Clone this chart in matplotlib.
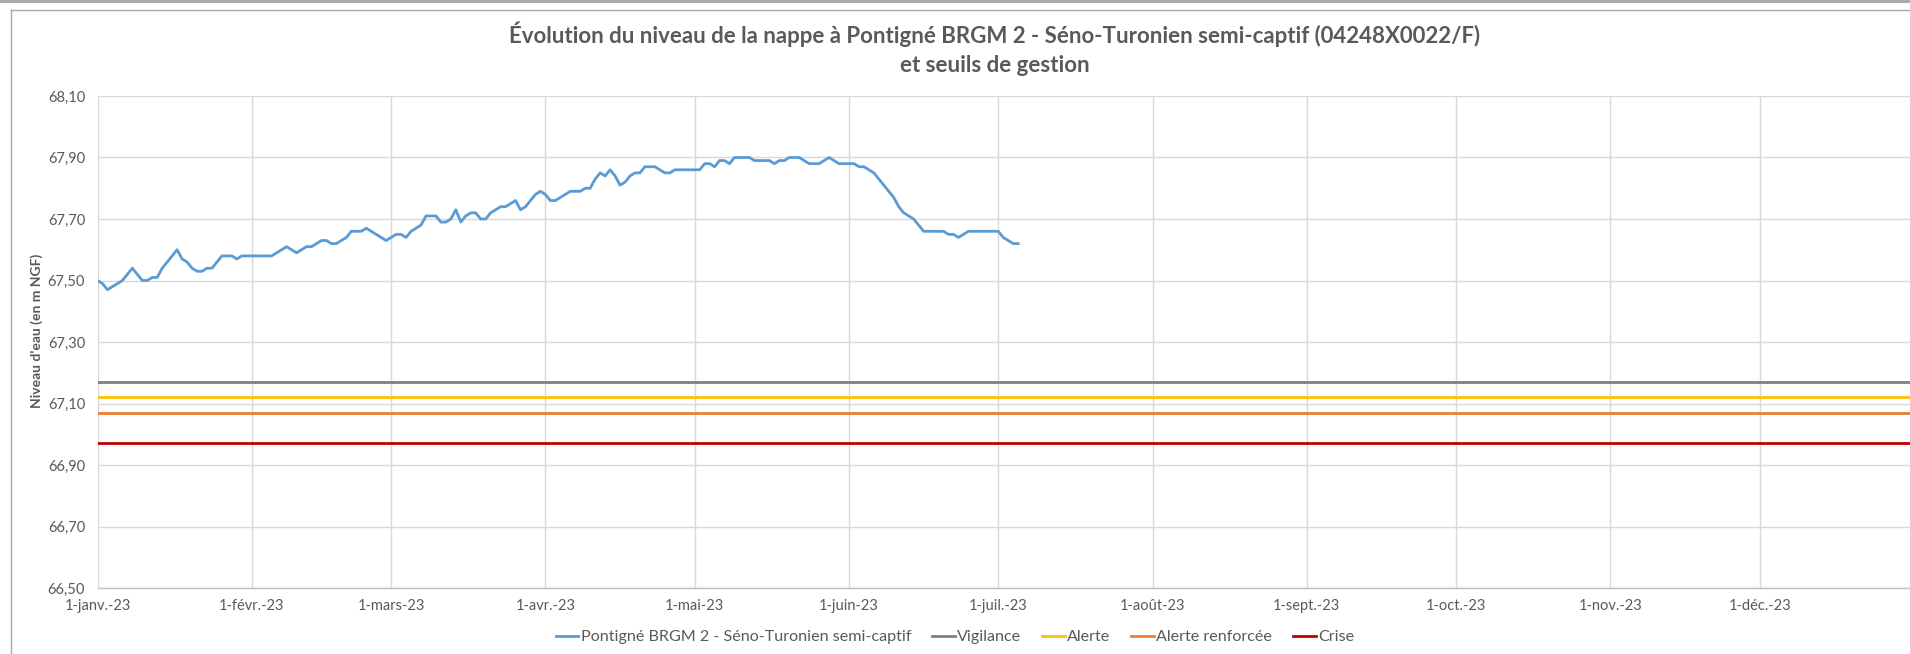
import matplotlib
matplotlib.use("Agg")
import matplotlib.pyplot as plt
from matplotlib.lines import Line2D
import pandas as pd

# Daily groundwater level (m NGF) from 1 January 2023
start_date = "2023-01-01"
niveau = [
    67.50, 67.49, 67.47, 67.48, 67.49, 67.50, 67.52, 67.54, 67.52, 67.50,
    67.50, 67.51, 67.51, 67.54, 67.56, 67.58, 67.60, 67.57, 67.56, 67.54,
    67.53, 67.53, 67.54, 67.54, 67.56, 67.58, 67.58, 67.58, 67.57, 67.58,
    67.58, 67.58, 67.58, 67.58, 67.58, 67.58, 67.59, 67.60, 67.61, 67.60,
    67.59, 67.60, 67.61, 67.61, 67.62, 67.63, 67.63, 67.62, 67.62, 67.63,
    67.64, 67.66, 67.66, 67.66, 67.67, 67.66, 67.65, 67.64, 67.63, 67.64,
    67.65, 67.65, 67.64, 67.66, 67.67, 67.68, 67.71, 67.71, 67.71, 67.69,
    67.69, 67.70, 67.73, 67.69, 67.71, 67.72, 67.72, 67.70, 67.70, 67.72,
    67.73, 67.74, 67.74, 67.75, 67.76, 67.73, 67.74, 67.76, 67.78, 67.79,
    67.78, 67.76, 67.76, 67.77, 67.78, 67.79, 67.79, 67.79, 67.80, 67.80,
    67.83, 67.85, 67.84, 67.86, 67.84, 67.81, 67.82, 67.84, 67.85, 67.85,
    67.87, 67.87, 67.87, 67.86, 67.85, 67.85, 67.86, 67.86, 67.86, 67.86,
    67.86, 67.86, 67.88, 67.88, 67.87, 67.89, 67.89, 67.88, 67.90, 67.90,
    67.90, 67.90, 67.89, 67.89, 67.89, 67.89, 67.88, 67.89, 67.89, 67.90,
    67.90, 67.90, 67.89, 67.88, 67.88, 67.88, 67.89, 67.90, 67.89, 67.88,
    67.88, 67.88, 67.88, 67.87, 67.87, 67.86, 67.85, 67.83, 67.81, 67.79,
    67.77, 67.74, 67.72, 67.71, 67.70, 67.68, 67.66, 67.66, 67.66, 67.66,
    67.66, 67.65, 67.65, 67.64, 67.65, 67.66, 67.66, 67.66, 67.66, 67.66,
    67.66, 67.66, 67.64, 67.63, 67.62, 67.62,
]

# Management thresholds (m NGF)
seuil_noms = ["Vigilance", "Alerte", "Alerte renforcée", "Crise"]
seuil_valeurs = [67.17, 67.12, 67.07, 66.97]
seuil_couleurs = ["#7F7F7F", "#FFC000", "#ED7D31", "#C00000"]

serie_nom = "Pontigné BRGM 2 - Séno-Turonien semi-captif"
serie_couleur = "#5B9BD5"

mois_labels = ["1-janv.-23", "1-févr.-23", "1-mars-23", "1-avr.-23", "1-mai-23",
               "1-juin-23", "1-juil.-23", "1-août-23", "1-sept.-23", "1-oct.-23",
               "1-nov.-23", "1-déc.-23"]
y_ticks = [66.50, 66.70, 66.90, 67.10, 67.30, 67.50, 67.70, 67.90, 68.10]

titre = ("Évolution du niveau de la nappe à Pontigné BRGM 2 - Séno-Turonien semi-captif (04248X0022/F)\n"
         "et seuils de gestion")

TXT = "#595959"
GRID = "#D9D9D9"
FONT = ["Lato", "DejaVu Sans"]

W, H = 1910, 654
fig = plt.figure(figsize=(W / 100, H / 100), dpi=100)

# axes placement in pixels
x0, x1 = 97.5, 1914.0
y_top, y_bot = 96.0, 588.0
ax = fig.add_axes([x0 / W, 1 - y_bot / H, (x1 - x0) / W, (y_bot - y_top) / H])

dates = pd.date_range(start_date, periods=len(niveau), freq="D")
ax.plot(dates, niveau, color=serie_couleur, lw=2.0, label=serie_nom,
        solid_joinstyle="round", zorder=5)

x_debut = pd.Timestamp("2023-01-01")
x_fin = pd.Timestamp("2024-01-01")
for nom, val, col in zip(seuil_noms, seuil_valeurs, seuil_couleurs):
    ax.plot([x_debut, x_fin], [val, val], color=col, lw=2.0, label=nom, zorder=4)

ax.set_xlim(x_debut, x_fin)
ax.set_ylim(66.50, 68.10)

month_starts = pd.date_range("2023-01-01", periods=12, freq="MS")
ax.set_xticks(month_starts)
ax.set_xticklabels(mois_labels)
ax.set_yticks(y_ticks)
ax.set_yticklabels([f"{v:.2f}".replace(".", ",") for v in y_ticks])

ax.grid(True, color=GRID, lw=1.0, zorder=0)
ax.set_axisbelow(True)
for s in ["top", "right", "left"]:
    ax.spines[s].set_visible(False)
ax.spines["bottom"].set_color("#BFBFBF")
ax.spines["bottom"].set_linewidth(1.0)

ax.tick_params(axis="both", length=0, colors=TXT, labelsize=10.5, pad=9)
ax.tick_params(axis="x", pad=8)
for lbl in ax.get_xticklabels() + ax.get_yticklabels():
    lbl.set_fontfamily(FONT)

ax.set_ylabel("Niveau d'eau (en m NGF)", fontsize=10, fontweight="bold",
              color=TXT, family=FONT)
ax.yaxis.set_label_coords(-0.030, 0.522)

fig.text(995 / W, 1 - 49 / H, titre, ha="center", va="center", fontsize=16,
         fontweight="bold", color=TXT, family=FONT, linespacing=1.45)

leg = fig.legend(loc="center", bbox_to_anchor=(955 / W, 1 - 637 / H), ncol=5,
                 frameon=False, handlelength=1.4, handletextpad=0.15,
                 columnspacing=1.3, prop={"family": FONT, "size": 11.6})
for t in leg.get_texts():
    t.set_color(TXT)

# chart area border
fig.add_artist(Line2D([11 / W, 11 / W], [0, 1 - 10 / H], color="#A6A6A6", lw=1.0,
                      transform=fig.transFigure))
fig.add_artist(Line2D([11 / W, 1], [1 - 10 / H, 1 - 10 / H], color="#A6A6A6", lw=1.0,
                      transform=fig.transFigure))
fig.add_artist(Line2D([0, 1], [1 - 0.8 / H, 1 - 0.8 / H], color="#A6A6A6", lw=2.0,
                      transform=fig.transFigure))

fig.savefig("out.png", dpi=100)
